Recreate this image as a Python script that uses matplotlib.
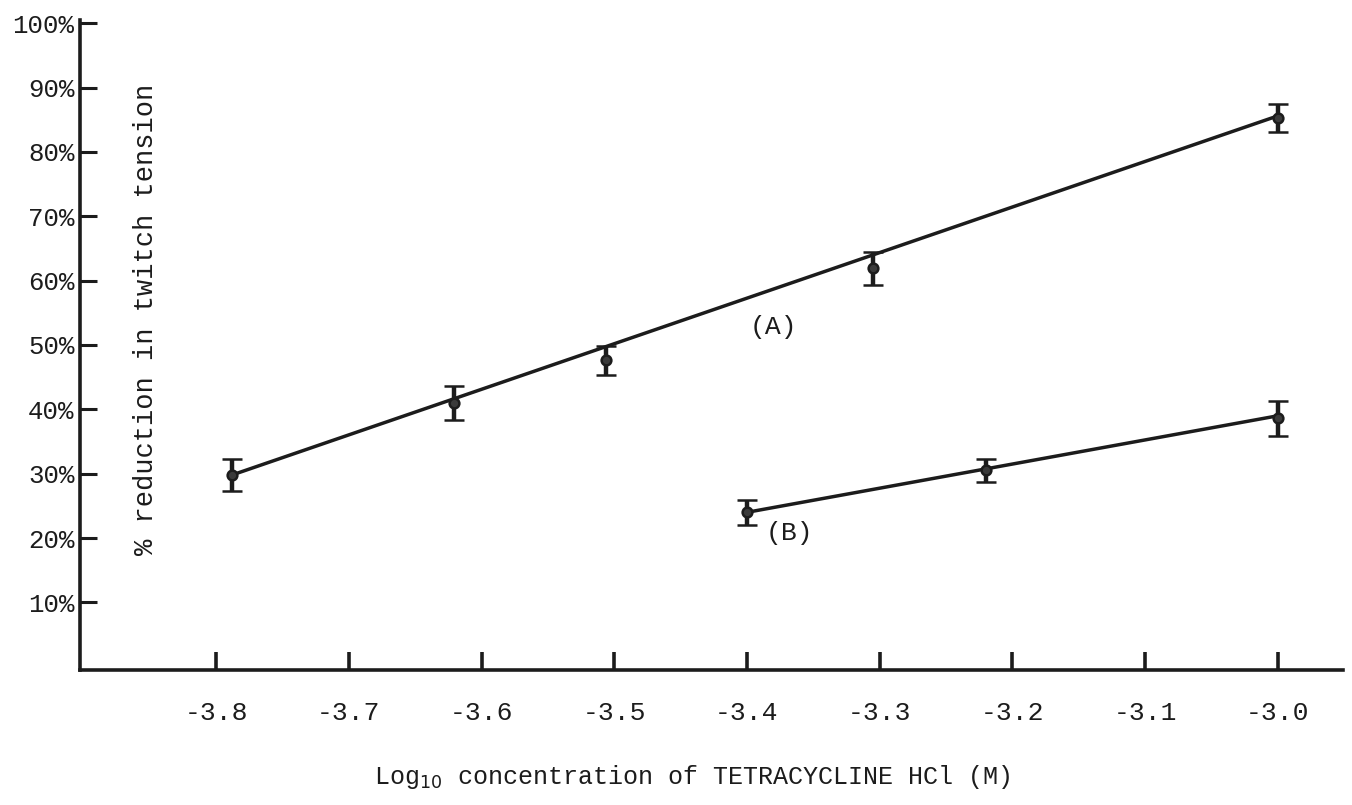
import matplotlib.pyplot as plt

# log10 molar concentration and % reduction in twitch tension
conc_a = [-3.788, -3.621, -3.506, -3.305, -3.0]
resp_a = [29.8, 41.0, 47.6, 61.9, 85.3]
err_a = [2.5, 2.7, 2.2, 2.6, 2.2]

conc_b = [-3.40, -3.22, -3.0]
resp_b = [24.0, 30.5, 38.6]
err_b = [1.9, 1.8, 2.7]

# hand-drawn lines through each series (value at first and last concentration)
line_a = [29.8, 85.6]
line_b = [24.0, 39.0]

x_ticks = [-3.8, -3.7, -3.6, -3.5, -3.4, -3.3, -3.2, -3.1, -3.0]
x_tick_labels = ['-3.8', '-3.7', '-3.6', '-3.5', '-3.4', '-3.3', '-3.2', '-3.1', '-3.0']
y_ticks = [10, 20, 30, 40, 50, 60, 70, 80, 90, 100]
y_tick_labels = ['10%', '20%', '30%', '40%', '50%', '60%', '70%', '80%', '90%', '100%']

ink = '#1c1c1c'
font = 'Liberation Mono'

fig = plt.figure(figsize=(13.52, 8.05), dpi=100)
ax = fig.add_axes([0.0592, 0.1677, 0.9341, 0.8075])

# fitted lines
ax.plot([conc_a[0], conc_a[-1]], line_a, color=ink, lw=2.5, solid_capstyle='round')
ax.plot([conc_b[0], conc_b[-1]], line_b, color=ink, lw=2.5, solid_capstyle='round')

# means with error bars
for xs, ys, es in [(conc_a, resp_a, err_a), (conc_b, resp_b, err_b)]:
    ax.errorbar(xs, ys, yerr=es, fmt='o', color=ink, ms=7, mfc='#3a3a3a',
                mec=ink, mew=1.8, elinewidth=3.2, capsize=7.5, capthick=3.2)

ax.text(-3.38, 52.8, '(A)', fontsize=19, family=font, color=ink, ha='center', va='center')
ax.text(-3.368, 20.8, '(B)', fontsize=19, family=font, color=ink, ha='center', va='center')

ax.set_xlim(-3.9025, -2.951)
ax.set_ylim(-0.5, 100.5)

ax.set_xticks(x_ticks)
ax.set_xticklabels(x_tick_labels, family=font, fontsize=19, color=ink)
ax.set_yticks(y_ticks)
ax.set_yticklabels(y_tick_labels, family=font, fontsize=18.5, color=ink)

ax.tick_params(axis='x', direction='in', length=13, width=2.6, color=ink, pad=22)
ax.tick_params(axis='y', direction='in', length=12, width=2.2, color=ink, pad=4)

for side in ['top', 'right']:
    ax.spines[side].set_visible(False)
for side in ['left', 'bottom']:
    ax.spines[side].set_linewidth(2.6)
    ax.spines[side].set_color(ink)

ax.text(0.052, 0.54, '% reduction in twitch tension', transform=ax.transAxes,
        rotation=90, fontsize=19.5, family=font, color=ink, ha='center', va='center')

fig.text(692 / 1352, 1 - 777 / 805, r'Log$_{10}$ concentration of TETRACYCLINE HCl (M)',
         fontsize=18, family=font, color=ink, ha='center', va='center')

fig.savefig('out.png', dpi=100, facecolor='white')
